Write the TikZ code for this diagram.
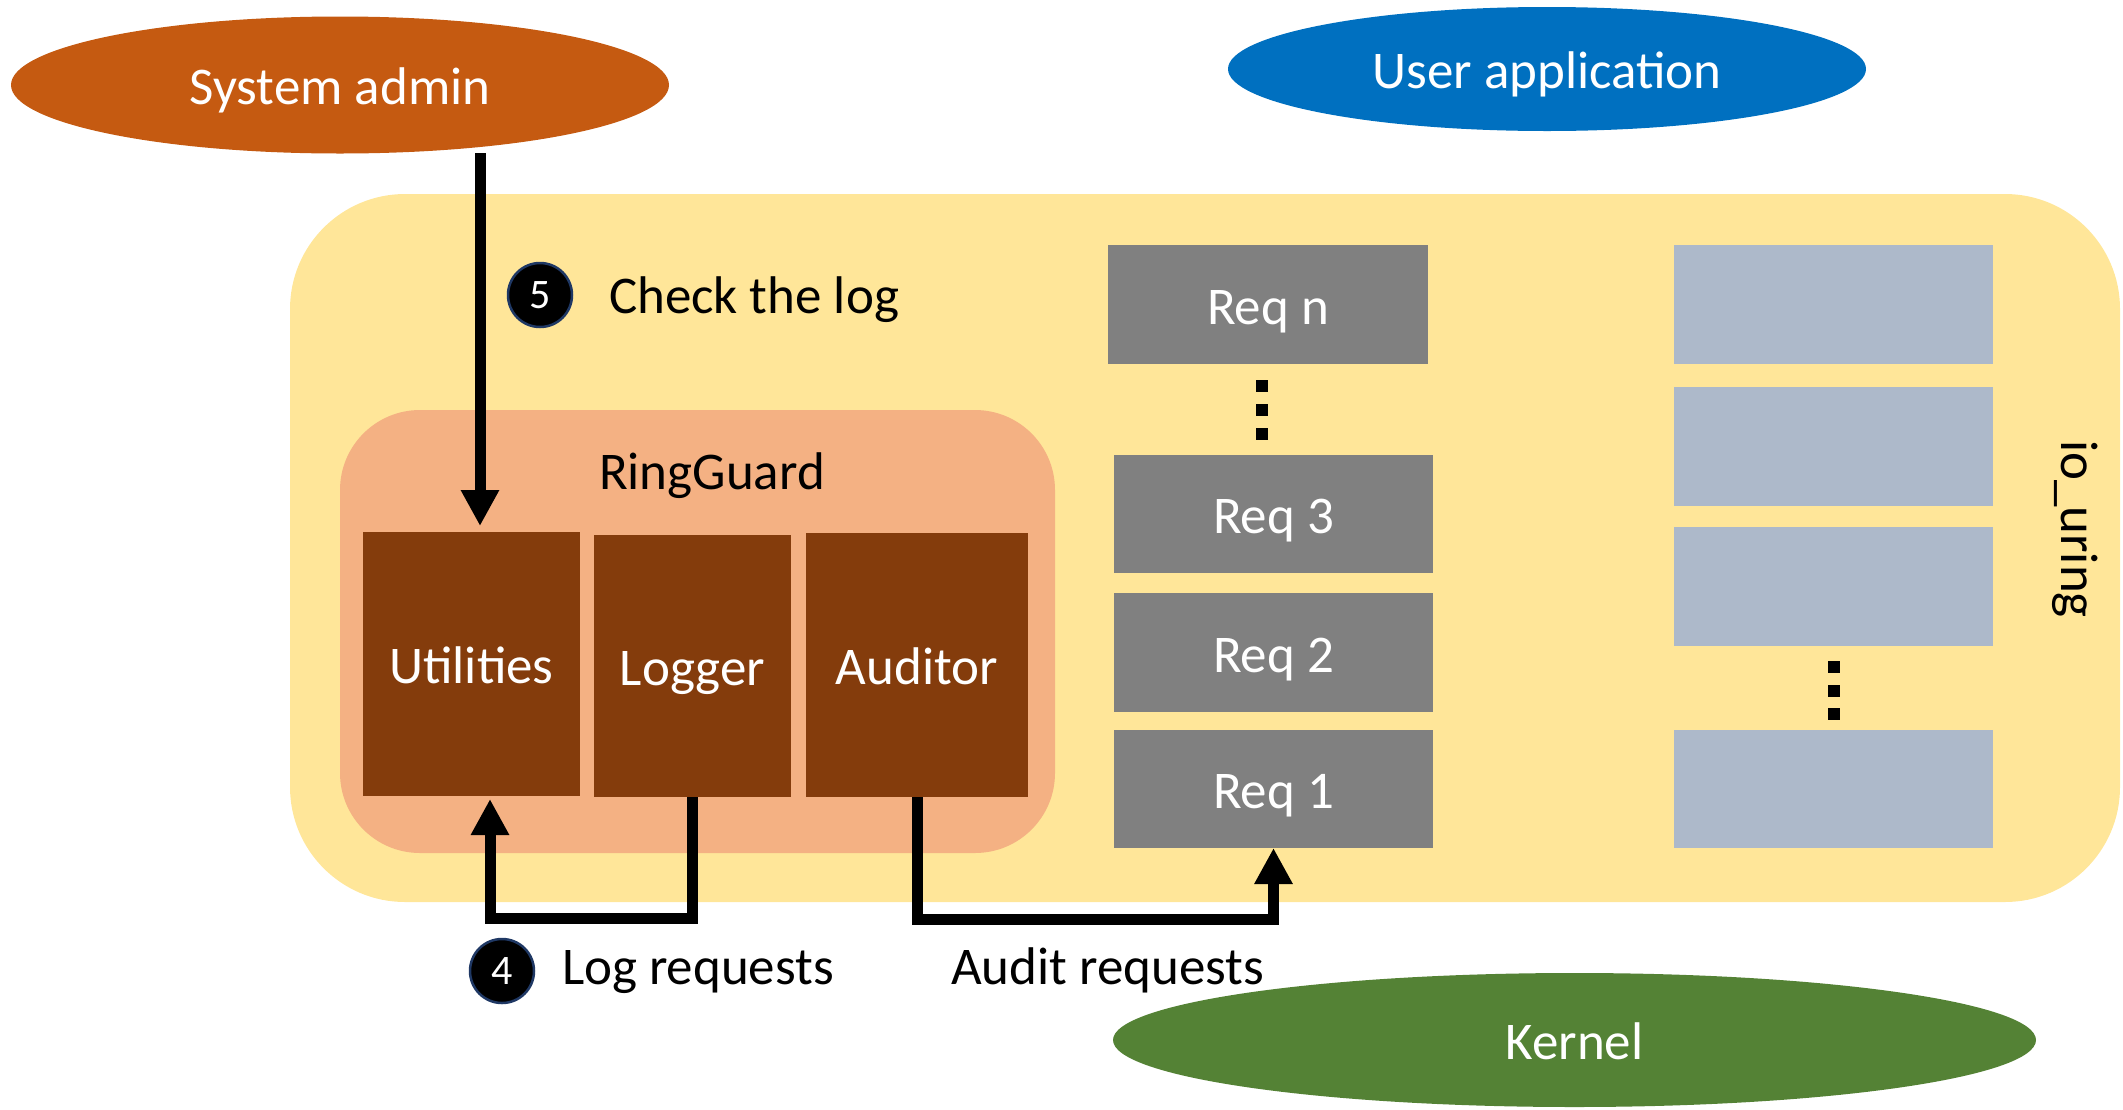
\documentclass[tikz,border=0pt]{standalone}
\usepackage{fontspec}
\setmainfont{Carlito}
\usetikzlibrary{shapes.geometric,arrows.meta}
\definecolor{admincol}{HTML}{C55A11}
\definecolor{appcol}{HTML}{0070C0}
\definecolor{kernelcol}{HTML}{548235}
\definecolor{ringcol}{HTML}{FFE699}
\definecolor{guardcol}{HTML}{F4B183}
\definecolor{modcol}{HTML}{843C0C}
\definecolor{reqcol}{HTML}{808080}
\definecolor{slotcol}{HTML}{ADB9CA}
\definecolor{badgeedge}{HTML}{1F3864}
\begin{document}
\begin{tikzpicture}[x=1pt,y=-1pt,
  every node/.style={font=\fontsize{53}{60}\selectfont, inner sep=0pt, outer sep=0pt},
  actor/.style={ellipse, text=white, text height=42pt, text depth=3pt},
  box/.style={rectangle, text=white, text height=42pt, text depth=3pt},
  arr/.style={line width=11pt, -{Triangle[width=36pt,length=36pt]}, line join=miter},
  badge/.style={circle, fill=black, draw=badgeedge, line width=2.5pt, minimum size=64pt,
                text=white, font=\fontsize{42}{48}\selectfont},
  dotmark/.style={rectangle, fill=black, minimum size=12pt}
]
\useasboundingbox (0,0) rectangle (2123,1109);

% io_uring region
\node[fill=ringcol, rounded corners=115pt, minimum width=1830pt, minimum height=708pt]
  (iouring) at (1205,548) {};
\node[rotate=-90] (ioulabel) at (2075,529) {io\_uring};

% RingGuard container and its modules
\node[fill=guardcol, rounded corners=80pt, minimum width=715pt, minimum height=443pt]
  (ringguard) at (697.5,631.5) {};
\node[anchor=base] (rglabel) at (712,489) {RingGuard};
\node[box, fill=modcol, minimum width=217pt, minimum height=264pt] (utilities) at (471.5,664) {Utilities};
\node[box, fill=modcol, minimum width=197pt, minimum height=262pt] (logger) at (692.5,666) {Logger};
\node[box, fill=modcol, minimum width=222pt, minimum height=264pt] (auditor) at (917,665) {Auditor};

% submission queue entries
\node[box, fill=reqcol, minimum width=320pt, minimum height=119pt] (reqn) at (1268,304.5) {Req n};
\node[dotmark] (qd1) at (1262,386) {};
\node[dotmark] (qd2) at (1262,410) {};
\node[dotmark] (qd3) at (1262,434) {};
\node[box, fill=reqcol, minimum width=319pt, minimum height=118pt] (req3) at (1273.5,514) {Req 3};
\node[box, fill=reqcol, minimum width=319pt, minimum height=119pt] (req2) at (1273.5,652.5) {Req 2};
\node[box, fill=reqcol, minimum width=319pt, minimum height=118pt] (req1) at (1273.5,789) {Req 1};

% completion queue slots
\node[box, fill=slotcol, minimum width=319pt, minimum height=119pt] (slot1) at (1833.5,304.5) {};
\node[box, fill=slotcol, minimum width=319pt, minimum height=119pt] (slot2) at (1833.5,446.5) {};
\node[box, fill=slotcol, minimum width=319pt, minimum height=119pt] (slot3) at (1833.5,586.5) {};
\node[dotmark] (cd1) at (1834,667) {};
\node[dotmark] (cd2) at (1834,691) {};
\node[dotmark] (cd3) at (1834,714) {};
\node[box, fill=slotcol, minimum width=319pt, minimum height=118pt] (slot4) at (1833.5,789) {};

% actors
\node[actor, fill=admincol, minimum width=658pt, minimum height=137pt] (sysadmin) at (340,85) {System admin};
\node[actor, fill=appcol, minimum width=638pt, minimum height=124pt] (userapp) at (1547,69) {User application};
\node[actor, fill=kernelcol, minimum width=923pt, minimum height=134pt] (kernel) at (1574.5,1040) {Kernel};

% step 5: admin reads the log
\coordinate (admtap) at (480,153);
\draw[arr, shorten >=6pt] (admtap) -- (utilities.north -| admtap);
\node[badge] (b5) at (540,295) {5};
\node[anchor=base west, text=black] (chk) at (609,313) {Check the log};

% step 4: logger records requests through utilities
\draw[arr, shorten >=3pt] (logger.south) -- ++(0,121) -| ([xshift=18.5pt]utilities.south);
\node[badge] (b4) at (502,971) {4};
\node[anchor=base west] (logreq) at (562,984) {Log requests};

% auditor inspects the submitted requests
\draw[arr] (auditor.south) -- ++(0,122) -| (req1.south);
\node[anchor=base west] (audreq) at (951,984) {Audit requests};
\end{tikzpicture}
\end{document}
